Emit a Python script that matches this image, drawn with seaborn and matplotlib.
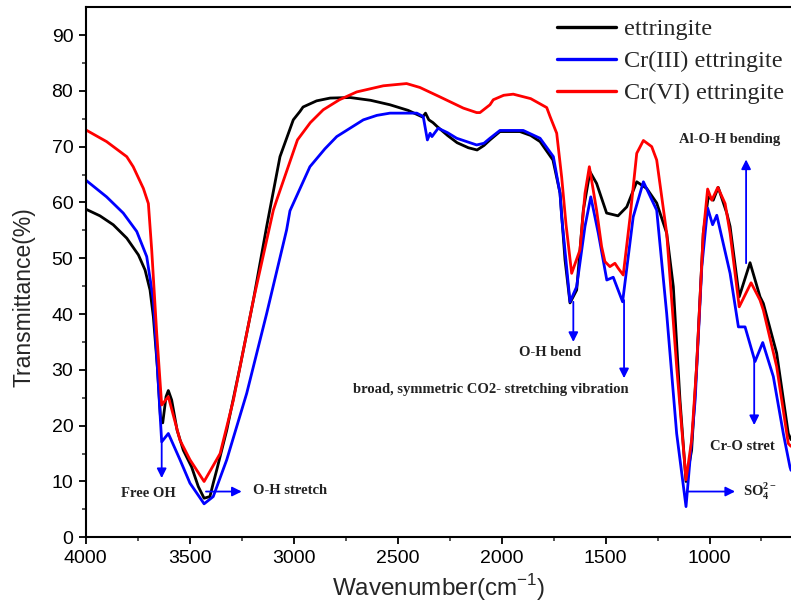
import numpy as np
import pandas as pd
import matplotlib
matplotlib.use("Agg")
import matplotlib.pyplot as plt
import seaborn as sns

# ---------------- data ----------------
series_names = ["ettringite", "Cr(III) ettringite", "Cr(VI) ettringite"]
series_colors = ["black", "blue", "red"]

wn_ettringite = [4000, 3932, 3868, 3803, 3747, 3715, 3691, 3675, 3656, 3640, 3630,
                 3614, 3603, 3587, 3561, 3531, 3491, 3459, 3431, 3403, 3387, 3370,
                 3322, 3258, 3194, 3130, 3066, 3002, 2970, 2955, 2890, 2825, 2729,
                 2630, 2537, 2450, 2380, 2366, 2350, 2330, 2310, 2260, 2214, 2160,
                 2118, 2085, 2056, 2008, 1912, 1860, 1815, 1753, 1719, 1695, 1671,
                 1639, 1607, 1575, 1543, 1495, 1440, 1398, 1350, 1302, 1254, 1206,
                 1174, 1142, 1113, 1086, 1062, 1030, 1006, 982, 958, 917, 901, 857,
                 805, 757, 741, 677, 621, 608]
t_ettringite = [58.8, 57.6, 56.0, 53.6, 50.6, 47.9, 44.3, 39.5, 30.6, 21.0, 20.5,
                25.2, 26.3, 24.6, 19.2, 15.6, 12.6, 9.1, 7.0, 7.3, 9.7, 12.1,
                19.2, 30.6, 42.5, 55.7, 68.2, 74.8, 76.3, 77.1, 78.2, 78.7, 78.8,
                78.3, 77.5, 76.5, 75.3, 76.0, 74.8, 74.3, 73.6, 72.0, 70.7, 69.8,
                69.4, 70.2, 71.2, 72.7, 72.7, 72.0, 70.9, 67.6, 61.7, 49.7, 42.0,
                44.3, 58.6, 65.5, 63.4, 58.1, 57.6, 59.2, 63.7, 62.5, 59.9, 54.5,
                44.9, 24.6, 10.0, 15.6, 30.6, 54.5, 61.0, 60.4, 62.7, 58.1, 55.7, 43.1,
                49.2, 43.1, 41.9, 33.0, 18.6, 17.5]

wn_cr3 = [4000, 3900, 3820, 3755, 3707, 3675, 3656, 3635, 3603, 3547, 3499, 3431,
          3387, 3322, 3226, 3130, 3034, 3018, 2922, 2850, 2793, 2665, 2600, 2537,
          2408, 2377, 2357, 2344, 2335, 2305, 2260, 2216, 2160, 2120, 2085, 2056,
          2008, 1896, 1815, 1751, 1719, 1711, 1671, 1639, 1599, 1571, 1535, 1494,
          1463, 1418, 1367, 1318, 1254, 1206, 1158, 1113, 1069, 1037, 1009, 985,
          965, 901, 861, 829, 781, 744, 693, 645, 613, 608]
t_cr3 = [64.0, 61.0, 58.1, 54.8, 50.3, 42.5, 30.6, 17.1, 18.6, 13.9, 9.7, 6.0,
         7.3, 13.9, 25.8, 40.1, 55.1, 58.5, 66.4, 69.6, 71.8, 74.8, 75.6, 76.0,
         76.0, 75.4, 71.2, 72.4, 71.8, 73.3, 72.5, 71.5, 70.8, 70.3, 70.6, 71.5,
         72.9, 72.9, 71.5, 68.2, 61.6, 57.4, 42.2, 44.9, 55.7, 61.0, 54.5, 46.1,
         46.6, 42.2, 57.4, 63.7, 58.6, 40.1, 18.6, 5.5, 24.6, 48.5, 59.0, 56.0,
         57.7, 47.3, 37.7, 37.7, 31.5, 34.9, 28.8, 18.6, 12.6, 12.0]

wn_cr6 = [4000, 3900, 3803, 3772, 3723, 3699, 3683, 3659, 3635, 3603, 3547, 3499,
          3431, 3354, 3290, 3194, 3098, 3082, 2982, 2920, 2858, 2780, 2697, 2569,
          2457, 2393, 2296, 2184, 2120, 2104, 2056, 2040, 1990, 1944, 1860, 1783,
          1767, 1735, 1711, 1690, 1663, 1623, 1599, 1578, 1543, 1519, 1503, 1479,
          1455, 1439, 1415, 1382, 1350, 1318, 1278, 1254, 1206, 1158, 1113, 1086,
          1062, 1030, 1009, 989, 960, 925, 901, 857, 800, 757, 741, 677, 621, 608]
t_cr6 = [73.0, 70.9, 68.2, 66.4, 62.5, 59.8, 51.5, 36.6, 23.7, 25.2, 17.4, 13.9,
         10.0, 15.0, 24.6, 42.5, 58.6, 60.4, 71.2, 74.3, 76.6, 78.4, 79.8, 80.9,
         81.3, 80.6, 78.9, 76.9, 76.1, 76.1, 77.5, 78.4, 79.2, 79.4, 78.6, 77.0,
         75.4, 72.4, 64.5, 56.0, 47.3, 51.5, 61.6, 66.4, 58.6, 52.1, 49.4, 48.5,
         49.1, 48.2, 47.0, 57.4, 68.8, 71.1, 70.0, 67.6, 54.5, 30.6, 10.3, 17.4,
         30.6, 54.5, 62.4, 60.4, 62.7, 59.8, 54.5, 41.3, 45.6, 42.5, 40.7, 30.6,
         16.8, 16.3]

x_ticks = [4000, 3500, 3000, 2500, 2000, 1500, 1000]
y_ticks = [0, 10, 20, 30, 40, 50, 60, 70, 80, 90]

df = pd.concat([
    pd.DataFrame({"wn": wn_ettringite, "T": t_ettringite, "sample": series_names[0]}),
    pd.DataFrame({"wn": wn_cr3, "T": t_cr3, "sample": series_names[1]}),
    pd.DataFrame({"wn": wn_cr6, "T": t_cr6, "sample": series_names[2]}),
], ignore_index=True)

# ---------------- style ----------------
sns.set_theme(style="ticks")
plt.rcParams["font.family"] = ["Liberation Sans", "DejaVu Sans"]
plt.rcParams["mathtext.fontset"] = "custom"
plt.rcParams["mathtext.rm"] = "Liberation Sans"
plt.rcParams["mathtext.bf"] = "Liberation Serif:bold"

W, H = 791, 609
fig = plt.figure(figsize=(W / 100, H / 100), dpi=100)
ax = fig.add_axes([85.8 / W, (H - 537.3) / H, (W - 85.8) / W, (537.3 - 7.1) / H])

sns.lineplot(data=df, x="wn", y="T", hue="sample", hue_order=series_names,
             palette=dict(zip(series_names, series_colors)), estimator=None,
             sort=True, linewidth=2.0, ax=ax, legend=False)

ax.set_xlim(4000, 608)
ax.set_ylim(0, 95)
ax.set_xticks(x_ticks)
ax.set_xticks(np.arange(4000, 600, -250), minor=True)
ax.set_yticks(y_ticks)
ax.set_yticks(np.arange(0, 95, 5), minor=True)
ax.tick_params(axis="both", which="major", direction="out", length=5, width=1.3,
               labelsize=14, colors="black", pad=4)
ax.tick_params(axis="both", which="minor", direction="out", length=3, width=1.1)
for s in ["left", "bottom", "top"]:
    ax.spines[s].set_linewidth(1.5)
    ax.spines[s].set_color("black")
ax.spines["right"].set_visible(False)

ax.set_xlabel("Wavenumber(cm$^{-1}$)", fontsize=17.5, labelpad=4)
ax.set_ylabel("Transmittance(%)", fontsize=16.5)
ax.yaxis.set_label_coords((36 - 85.8) / 705.2, (537.3 - 297) / 530.2)

# legend
from matplotlib.lines import Line2D
handles = [Line2D([], [], color=c, lw=2.4) for c in series_colors]
leg = ax.legend(handles, series_names, loc="upper left",
                bbox_to_anchor=(556.7 / W, 1 - 18 / H), bbox_transform=fig.transFigure,
                frameon=False, borderaxespad=0, borderpad=0, handlelength=2.45,
                handletextpad=0.3, labelspacing=0.42,
                prop={"family": "Liberation Serif", "size": 17.5})

# annotations
afont = dict(family="Liberation Serif", weight="bold", size=10.5, color="#222222")
aprops = dict(arrowstyle="-|>", color="blue", lw=1.3, mutation_scale=14,
              shrinkA=0, shrinkB=0)

def arrow(x0, y0, x1, y1):
    ax.annotate("", xy=(x1, y1), xytext=(x0, y0), arrowprops=aprops)

arrow(3635, 17.1, 3635, 10.6)
ax.text(3701, 7.9, "Free OH", ha="center", va="center", **afont)
arrow(3422, 8.2, 3250, 8.2)
ax.text(3196, 8.3, "O-H stretch", ha="left", va="center", **afont)
arrow(1655, 42.2, 1655, 35.0)
ax.text(1767, 33.1, "O-H bend", ha="center", va="center", **afont)
arrow(1411, 42.5, 1411, 28.5)
ax.text(1387, 26.4, "broad, symmetric CO2- stretching vibration", ha="right",
        va="center", **afont)
arrow(1110, 8.2, 877, 8.2)
ax.text(840, 8.2, r"SO$_{\mathbf{4}}^{\mathbf{2-}}$", ha="left", va="center", **afont)
arrow(785, 31.8, 785, 20.1)
ax.text(998, 16.2, "Cr-O stret", ha="left", va="center", **afont)
arrow(824, 49.1, 824, 67.7)
ax.text(901, 71.3, "Al-O-H bending", ha="center", va="center", **afont)

fig.savefig("out.png", dpi=100)
